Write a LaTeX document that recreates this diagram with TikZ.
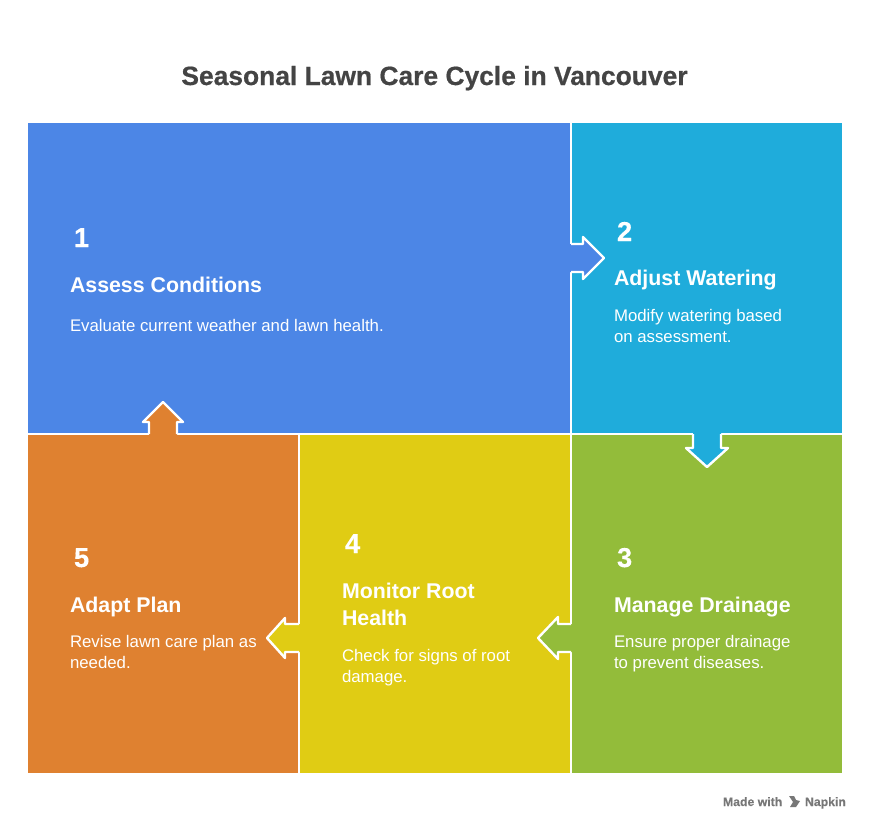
\documentclass[tikz,border=0pt]{standalone}
\usepackage{fontspec}
\setmainfont{Liberation Sans}
\newfontfamily\titlefont[FakeBold=0.6]{Liberation Sans Bold}
\newfontfamily\markfont[FakeBold=0.4]{Liberation Sans Bold}
\newfontfamily\numfont[FakeBold=0.3]{Liberation Sans Bold}
\definecolor{cblue}{HTML}{4C86E6}
\definecolor{ccyan}{HTML}{1FACDB}
\definecolor{cgreen}{HTML}{93BC3A}
\definecolor{cyellow}{HTML}{E0CC14}
\definecolor{corange}{HTML}{DF8130}
\definecolor{ctitle}{HTML}{444444}
\definecolor{cmark}{HTML}{777777}
\tikzset{
  lbl/.style={text=white,inner sep=0pt,outer sep=0pt,anchor=base west,align=left},
  numlbl/.style={lbl,font=\numfont\fontsize{20.5}{24}\selectfont},
  headlbl/.style={lbl,font=\bfseries\fontsize{16}{20.25}\selectfont},
  bodylbl/.style={lbl,font=\fontsize{12.6}{15.75}\selectfont},
  marklbl/.style={lbl,text=cmark,font=\markfont\fontsize{9.2}{10}\selectfont},
  divider/.style={draw=white,line width=1.5pt},
  arrowline/.style={draw=white,line width=1.8pt,line join=round},
}
\begin{document}
\begin{tikzpicture}[x=0.75pt,y=-0.75pt]
\useasboundingbox (0,0) rectangle (870,829);
\fill[white] (0,0) rectangle (870,829);
% tiles
\fill[cblue] (28,123) rectangle (571,434);
\fill[ccyan] (571,123) rectangle (842,434);
\fill[corange] (28,434) rectangle (299,773);
\fill[cyellow] (299,434) rectangle (571,773);
\fill[cgreen] (571,434) rectangle (842,773);
% dividers
\draw[divider] (571,123) -- (571,773);
\draw[divider] (28,434) -- (842,434);
\draw[divider] (299,434) -- (299,773);
% arrows
\fill[cblue] (570,244) -- (583,244) -- (583,237) -- (604,258) -- (583,279) -- (583,272) -- (570,272) -- cycle;
\draw[arrowline] (571,244) -- (583,244) -- (583,237) -- (604,258) -- (583,279) -- (583,272) -- (571,272);
\fill[ccyan] (693,433) -- (693,448) -- (686,448) -- (707,467) -- (728,448) -- (721,448) -- (721,433) -- cycle;
\draw[arrowline] (693,434) -- (693,448) -- (686,448) -- (707,467) -- (728,448) -- (721,448) -- (721,434);
\fill[cgreen] (572,624) -- (558,624) -- (558,617) -- (538,638) -- (558,659) -- (558,652) -- (572,652) -- cycle;
\draw[arrowline] (571,624) -- (558,624) -- (558,617) -- (538,638) -- (558,659) -- (558,652) -- (571,652);
\fill[cyellow] (300,624) -- (285,624) -- (285,618) -- (267,638) -- (285,658) -- (285,652) -- (300,652) -- cycle;
\draw[arrowline] (299,624) -- (285,624) -- (285,618) -- (267,638) -- (285,658) -- (285,652) -- (299,652);
\fill[corange] (149,435) -- (149,422) -- (143,422) -- (163,402) -- (183,422) -- (177,422) -- (177,435) -- cycle;
\draw[arrowline] (149,434) -- (149,422) -- (143,422) -- (163,402) -- (183,422) -- (177,422) -- (177,434);
% title
\node[lbl,anchor=base,text=ctitle,font=\titlefont\fontsize{19.8}{24}\selectfont] (title) at (434.5,85) {Seasonal Lawn Care Cycle in Vancouver};
% step 1
\node[numlbl] (n1) at (74,247) {1};
\node[headlbl] (h1) at (70,292) {Assess Conditions};
\node[bodylbl] (b1) at (70,331) {Evaluate current weather and lawn health.};
% step 2
\node[numlbl] (n2) at (617,241) {2};
\node[headlbl] (h2) at (614,285) {Adjust Watering};
\node[bodylbl] (b2a) at (614,321) {Modify watering based};
\node[bodylbl] (b2b) at (614,342) {on assessment.};
% step 3
\node[numlbl] (n3) at (617,567) {3};
\node[headlbl] (h3) at (614,612) {Manage Drainage};
\node[bodylbl] (b3a) at (614,647) {Ensure proper drainage};
\node[bodylbl] (b3b) at (614,668) {to prevent diseases.};
% step 4
\node[numlbl] (n4) at (345,553) {4};
\node[headlbl] (h4a) at (342,598) {Monitor Root};
\node[headlbl] (h4b) at (342,625) {Health};
\node[bodylbl] (b4a) at (342,661) {Check for signs of root};
\node[bodylbl] (b4b) at (342,682) {damage.};
% step 5
\node[numlbl] (n5) at (74,567) {5};
\node[headlbl] (h5) at (70,612) {Adapt Plan};
\node[bodylbl] (b5a) at (70,647) {Revise lawn care plan as};
\node[bodylbl] (b5b) at (70,668) {needed.};
% footer
\node[marklbl] (m1) at (723,806) {Made with};
\fill[cmark] (789,796) -- (794,796) -- (796,800) -- (800,801) -- (796,807) -- (790,807) -- (793,802) -- cycle;
\node[marklbl] (m2) at (805,806) {Napkin};
\end{tikzpicture}
\end{document}
